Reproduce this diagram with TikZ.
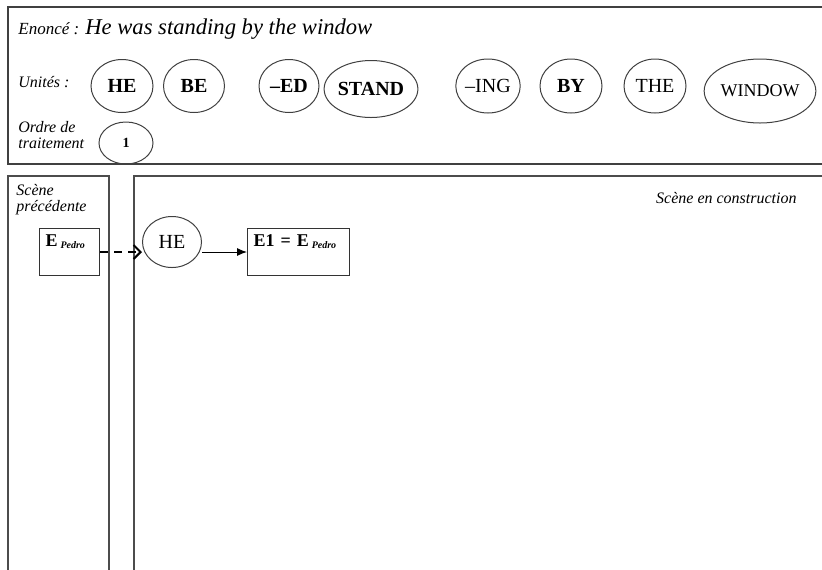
\documentclass[tikz,border=0pt]{standalone}
\usepackage{fontspec}
\setmainfont{Liberation Serif}
\usetikzlibrary{shapes.geometric,arrows.meta}

\begin{document}
\begin{tikzpicture}[
    x=0.5pt, y=-0.5pt,
    frame/.style={draw=black!75, line width=0.9pt},
    pane/.style={draw=black!70, line width=0.55pt},
    lab/.style={font=\fontsize{8}{8}\selectfont\itshape, align=left, anchor=base west, inner sep=0pt},
    unit/.style={draw=black!75, ellipse, line width=0.5pt, inner sep=0pt, font=\fontsize{10}{10}\selectfont},
    ebox/.style={draw=black!80, line width=0.5pt, rectangle, anchor=north west, align=left,
        inner xsep=3pt, inner ysep=2.5pt, text height=6.5pt, text depth=12pt,
        font=\fontsize{9}{9}\selectfont\bfseries},
    arrow/.style={-{Latex[length=5pt,width=4pt]}, line width=0.5pt}
]
\clip (0,0) rectangle (822,569);

% Statement frame
\draw[frame] (8,7) rectangle (830,164);
\node[font=\fontsize{8.5}{8.5}\selectfont\itshape, anchor=base west, inner sep=0pt] (enonce) at (18,34) {Enoncé :};
\node[font=\fontsize{11.3}{11.3}\selectfont\itshape, anchor=base west, inner sep=0pt] (phrase) at (85,34) {He was standing by the window};

% Units
\node[lab] (unites) at (18,87) {Unités :};
\node[unit, minimum width=31pt, minimum height=26.5pt] (he) at (122,86) {\bfseries HE};
\node[unit, minimum width=30.5pt, minimum height=26.5pt] (be) at (194,86) {\bfseries BE};
\node[unit, minimum width=30pt, minimum height=26.5pt] (ed) at (289,86) {\bfseries –ED};
\node[unit, minimum width=38.5pt, minimum height=28.5pt] (stand) at (371,89) {\bfseries STAND};
\node[unit, minimum width=30.5pt, minimum height=27pt] (ing) at (488,86) {–ING};
\node[unit, minimum width=31pt, minimum height=27pt] (by) at (571,86) {\bfseries BY};
\node[unit, minimum width=31pt, minimum height=27pt] (the) at (655,86) {THE};
\node[unit, minimum width=51.5pt, minimum height=32pt, font=\fontsize{9}{9}\selectfont] (window) at (760,91) {WINDOW};

% Order
\node[lab] (ordre) at (18,148) {Ordre de\\traitement};
\node[unit, minimum width=27pt, minimum height=21pt, font=\fontsize{7}{7}\selectfont\bfseries] (un) at (126,143) {1};

% Scenes
\draw[pane] (8,176) rectangle (109,580);
\draw[pane] (134,176) rectangle (830,580);
\node[lab] (precedente) at (16,211) {Scène\\précédente};
\node[lab, anchor=base east] (construction) at (797,203) {Scène en construction};

\node[ebox, text width=24pt] (epedro) at (39,228) {E\,{\fontsize{5}{5}\selectfont\itshape\raisebox{-1pt}{Pedro}}};
\node[unit, minimum width=29.5pt, minimum height=25.5pt] (hebas) at (172,242) {HE};
\node[ebox, text width=45pt] (eun) at (247,228) {E1 = E\,{\fontsize{5}{5}\selectfont\itshape\raisebox{-1pt}{Pedro}}};

% Arrows
\draw[dashed, line width=1pt, dash pattern=on 4pt off 3pt, -{Straight Barb[length=3.5pt,width=7pt]}] (epedro.east) -- (epedro.east -| hebas.west);
\draw[arrow] (eun.west -| hebas.east) -- (eun.west);

\end{tikzpicture}
\end{document}
